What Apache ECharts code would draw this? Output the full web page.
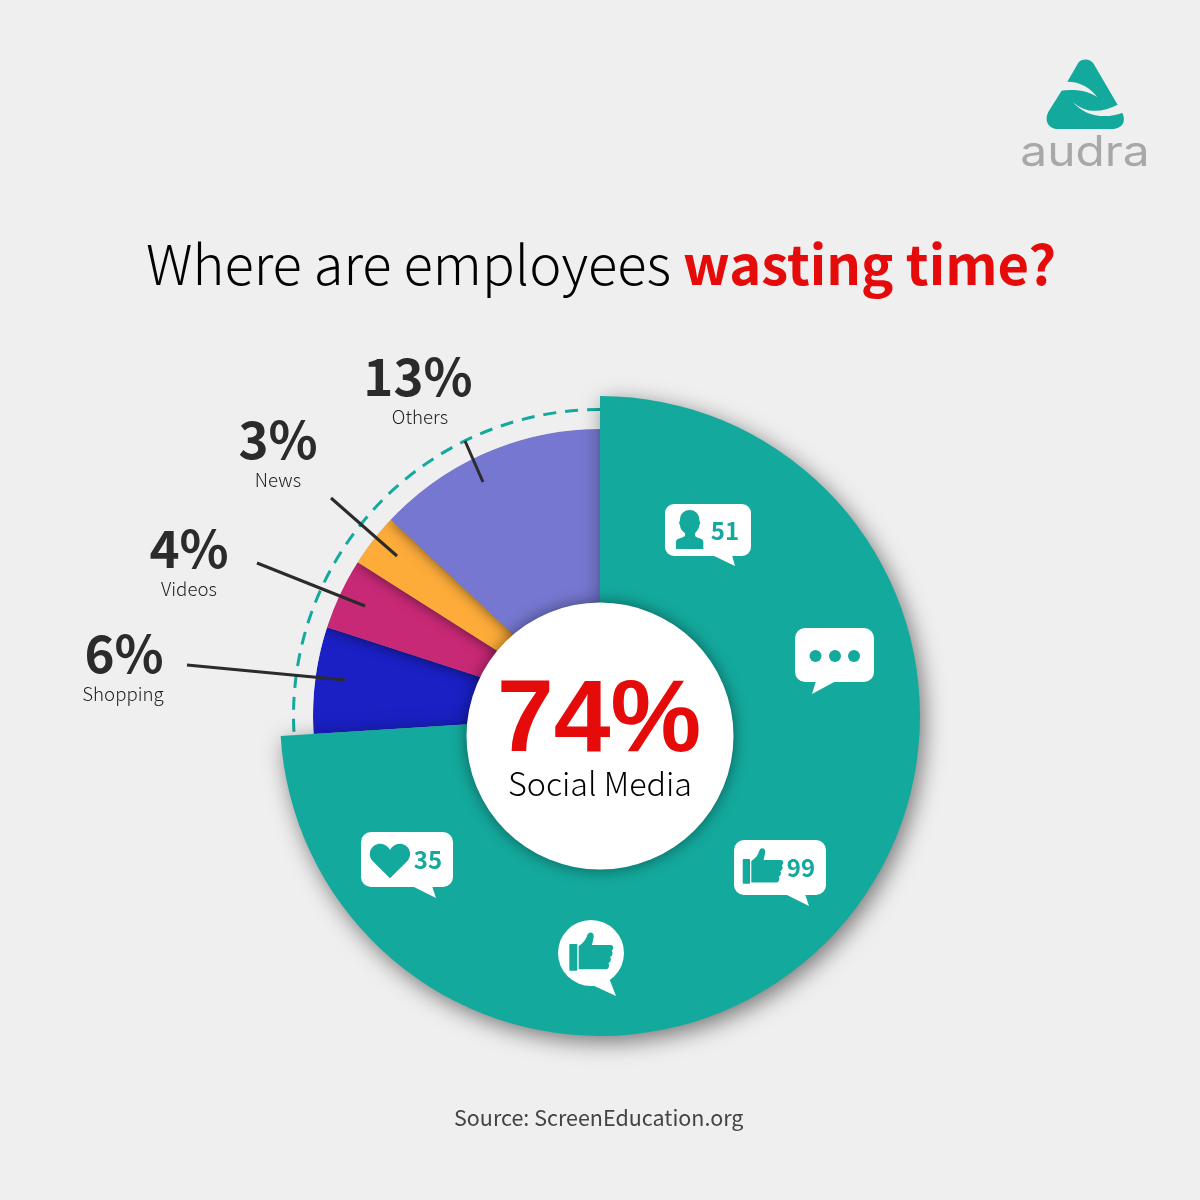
<!DOCTYPE html>
<html>
<head>
<meta charset="utf-8"/>
<style>
  html,body { height:100%; width:100%; margin:0; padding:0; background:#efefef; }
  #chart { width:1200px; height:1200px; }
</style>
</head>
<body>
<div id="chart"></div>
<script src="https://cdn.jsdelivr.net/npm/echarts@6/dist/echarts.min.js"></script>
<script type="text/javascript">
// data
var categories = ['Social Media', 'Shopping', 'Videos', 'News', 'Others'];
var shares = [74, 6, 4, 3, 13];
var colors = ['#14a99d', '#1a20c4', '#c82976', '#fdac3a', '#7677d0'];
var counts = ['51', '99', '35'];

var FONT = '"Noto Sans CJK SC", "Noto Sans", sans-serif';
var TEAL = '#14a99d', BG = '#efefef', DARK = '#2b2b2b', RED = '#e60b0b';
var CX = 600, CY = 716;

// callouts: [percent centre x, y, name centre x, y, line x1, y1, x2, y2], same order as categories
var callouts = {
    1: [124, 654, 123, 694, 187, 665, 345, 680],
    2: [189, 549, 189, 589, 257, 563, 365, 606],
    3: [278, 440, 278, 480, 331, 498, 397, 556],
    4: [418, 377, 420, 417, 465, 441, 483, 482]
};

var rad = function (d) { return d * Math.PI / 180; };

var graphics = [
    // hides the slice shadows outside the small ring
    { type: 'arc', z: 2, silent: true, shape: { cx: CX, cy: CY, r: 296, startAngle: rad(-90), endAngle: rad(175), clockwise: false },
      style: { stroke: BG, lineWidth: 18, fill: null } },
    { type: 'arc', z: 2, silent: true, shape: { cx: CX, cy: CY, r: 306.5, startAngle: rad(-90), endAngle: rad(175), clockwise: false },
      style: { stroke: TEAL, lineWidth: 3, lineDash: [13, 9], fill: null } },
    { type: 'circle', z: 4, silent: true, shape: { cx: 600, cy: 736, r: 133.5 },
      style: { fill: '#fff', shadowBlur: 16, shadowColor: 'rgba(0,0,0,0.45)' } },
    { type: 'text', z: 5, silent: true, x: 599, y: 723,
      style: { text: shares[0] + '%', font: 'bold 102px "Liberation Sans", Arial, sans-serif', fill: RED, textAlign: 'center', textVerticalAlign: 'middle' } },
    { type: 'text', z: 5, silent: true, x: 600, y: 784,
      style: { text: categories[0], font: '300 32.3px ' + FONT, fill: '#000', textAlign: 'center', textVerticalAlign: 'middle' } },
    { type: 'text', z: 5, silent: true, x: 1085, y: 153, scaleX: 1.14,
      style: { text: 'audra', font: '42px Inter, Lato, sans-serif', fill: '#a8a8a8', textAlign: 'center', textVerticalAlign: 'middle' } }
];

Object.keys(callouts).forEach(function (k) {
    var c = callouts[k];
    graphics.push(
        { type: 'line', z: 4, silent: true, shape: { x1: c[4], y1: c[5], x2: c[6], y2: c[7] }, style: { stroke: DARK, lineWidth: 3 } },
        { type: 'text', z: 5, silent: true, x: c[0], y: c[1],
          style: { text: shares[k] + '%', font: 'bold 51px ' + FONT, fill: DARK, textAlign: 'center', textVerticalAlign: 'middle' } },
        { type: 'text', z: 5, silent: true, x: c[2], y: c[3],
          style: { text: categories[k], font: '300 18.7px ' + FONT, fill: '#222', textAlign: 'center', textVerticalAlign: 'middle' } }
    );
});

// speech bubbles: [x, y, w, h, radius, tail points]
var bubbles = [
    [665, 504, 86, 52, 9, [[712, 555], [735, 566], [732, 555]]],
    [795, 628, 79, 54, 10, [[816, 681], [812, 694], [836, 681]]],
    [734, 840, 92, 55, 10, [[785, 894], [809, 906], [805, 894]]],
    [361, 832, 92, 55, 10, [[412, 886], [436, 898], [432, 886]]]
];
bubbles.forEach(function (b) {
    graphics.push(
        { type: 'rect', z: 6, silent: true, shape: { x: b[0], y: b[1], width: b[2], height: b[3], r: b[4] }, style: { fill: '#fff' } },
        { type: 'polygon', z: 6, silent: true, shape: { points: b[5] }, style: { fill: '#fff' } }
    );
});
graphics.push(
    { type: 'circle', z: 6, silent: true, shape: { cx: 591, cy: 953, r: 33 }, style: { fill: '#fff' } },
    { type: 'polygon', z: 6, silent: true, shape: { points: [[590, 984], [616, 996], [609, 978]] }, style: { fill: '#fff' } }
);
[815.5, 835, 854].forEach(function (x) {
    graphics.push({ type: 'circle', z: 7, silent: true, shape: { cx: x, cy: 656, r: 6 }, style: { fill: TEAL } });
});
[[counts[0], 725, 531], [counts[1], 801, 868], [counts[2], 428, 860]].forEach(function (t) {
    graphics.push({ type: 'text', z: 7, silent: true, x: t[1], y: t[2],
        style: { text: t[0], font: 'bold 24px ' + FONT, fill: TEAL, textAlign: 'center', textVerticalAlign: 'middle' } });
});

// icon outlines, drawn by the custom series below
var LOGO_BODY = 'M262 125L295 68C305 55 330 55 340 70L425 215C442 245 425 267 395 267L235 267C205 267 190 240 207 212Z';
var LOGO_CUT1 = 'M262 125C300 125 332 143 352 172C320 150 280 148 240 152L225 150L240 122Z';
var LOGO_CUT2 = 'M278 185C320 225 370 215 412 195L440 190L440 215L428 218C370 240 310 225 278 185Z';
var PERSON = 'M108 207L108 185C108 175 125 175 135 168L135 160C125 152 120 145 120 135L117 130L120 120C120 80 178 80 178 120L181 130L178 135C178 145 172 152 165 160L165 168C172 175 190 175 190 185L190 207Z';
var HEART = 'M150 175L97 122C75 95 105 60 135 75C142 78 147 84 150 90C153 84 158 78 165 75C195 60 225 95 203 122Z';
var THUMB = 'M688 375Q688 372 691 372L709 372Q712 372 712 375L712 449Q712 452 709 452L691 452Q688 452 688 449Z' +
    'M716 378C730 370 738 358 742 345C746 332 764 336 761 352L756 375L812 375C822 375 822 388 815 392C820 398 818 408 810 411C815 417 812 427 805 429C810 436 806 448 798 448L716 448Z';

var pathBox = function (d) { return echarts.graphic.makePath(d).getBoundingRect(); };

// draws a path written in zoomed coordinates at page position ox,oy
function iconPath(d, ox, oy, s, fill) {
    var b = pathBox(d);
    return { type: 'path', shape: { pathData: d, layout: 'cover', x: ox + b.x * s, y: oy + b.y * s, width: b.width * s, height: b.height * s }, style: { fill: fill } };
}

var option = {
    animation: false,
    backgroundColor: BG,
    title: [
        { text: '{a|Where are employees }{b|wasting time?}', left: 141, top: 219,
          textStyle: { rich: {
              a: { fontFamily: FONT, fontSize: 54.3, fontWeight: 200, color: '#000', lineHeight: 80 },
              b: { fontFamily: FONT, fontSize: 54.3, fontWeight: 'bold', color: RED, lineHeight: 80 }
          } } },
        { text: 'Source: ScreenEducation.org', left: 449, top: 1102, textStyle: { fontFamily: FONT, fontSize: 21.5, fontWeight: 'normal', color: '#444' } }
    ],
    graphic: { elements: graphics },
    series: [
        {
            type: 'pie', z: 1, silent: true, center: [CX, CY], radius: [100, 287], label: { show: false }, labelLine: { show: false },
            data: shares.map(function (v, i) {
                return {
                    name: categories[i], value: v,
                    itemStyle: i === 0 ? { color: 'transparent' } : { color: colors[i], shadowBlur: 14, shadowColor: 'rgba(0,0,0,0.55)' }
                };
            })
        },
        {
            type: 'pie', z: 3, silent: true, center: [CX, CY], radius: [100, 320], label: { show: false }, labelLine: { show: false },
            data: [
                { name: categories[0], value: shares[0], itemStyle: { color: colors[0], shadowBlur: 22, shadowOffsetX: 4, shadowOffsetY: 6, shadowColor: 'rgba(0,0,0,0.5)' } },
                { name: 'rest', value: shares.slice(1).reduce(function (a, b) { return a + b; }, 0), itemStyle: { color: 'transparent' } }
            ]
        },
        {
            type: 'custom', z: 8, silent: true, coordinateSystem: 'none', data: [[0]],
            renderItem: function () {
                return {
                    type: 'group',
                    children: [
                        iconPath(LOGO_BODY, 980, 40, 1 / 3, TEAL),
                        iconPath(LOGO_CUT1, 980, 40, 1 / 3, BG),
                        iconPath(LOGO_CUT2, 980, 40, 1 / 3, BG),
                        iconPath(PERSON, 640, 480, 1 / 3, TEAL),
                        iconPath(HEART, 340, 820, 1 / 3, TEAL),
                        iconPath(THUMB, 340, 820, 1 / 3, TEAL),
                        iconPath(THUMB, 531, 744.6, 0.3077, TEAL)
                    ]
                };
            }
        }
    ]
};

var myChart = echarts.init(document.getElementById('chart'), null, { renderer: 'canvas' });
myChart.setOption(option);
</script>
</body>
</html>
